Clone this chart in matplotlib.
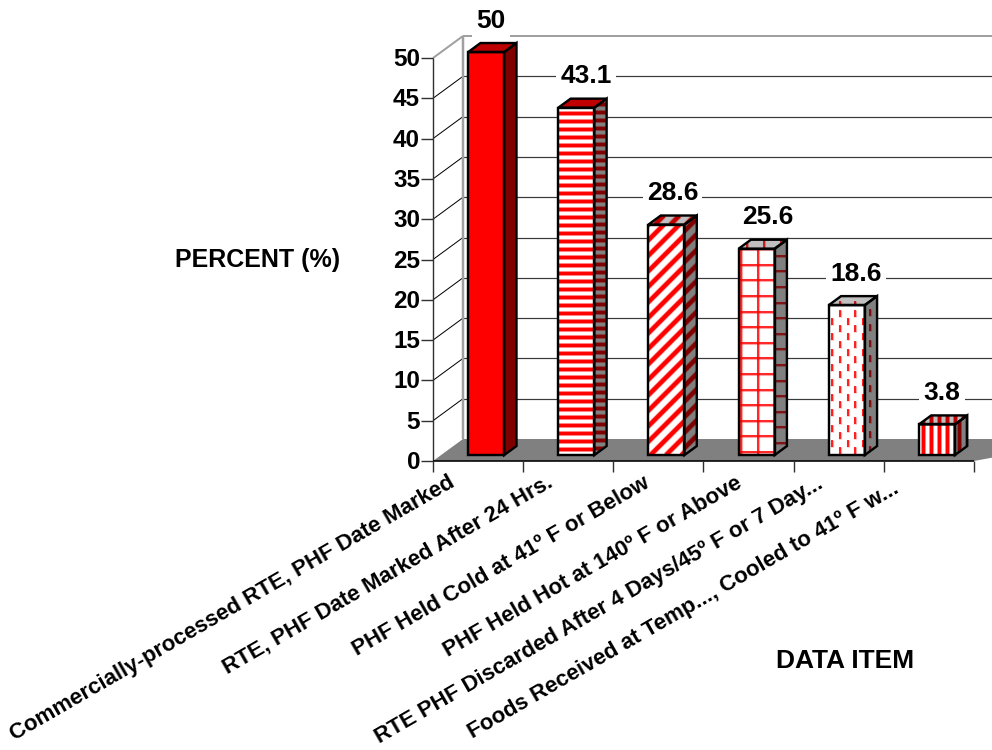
import numpy as np
import matplotlib
matplotlib.use("Agg")
import matplotlib.pyplot as plt
from matplotlib.patches import Polygon
from matplotlib.collections import LineCollection

categories = ["Commercially-processed RTE, PHF Date Marked",
              "RTE, PHF Date Marked After 24 Hrs.",
              "PHF Held Cold at 41\u00ba F or Below",
              "PHF Held Hot at 140\u00ba F or Above",
              "RTE PHF Discarded After 4 Days/45\u00ba F or 7 Day...",
              "Foods Received at Temp..., Cooled to 41\u00ba F w..."]
values = [50, 43.1, 28.6, 25.6, 18.6, 3.8]
labels = ["50", "43.1", "28.6", "25.6", "18.6", "3.8"]
patterns = ["solid", "hstripe", "diag", "grid", "dash", "vstripe"]
y_ticks = list(range(0, 55, 5))

W, H = 992, 750
X0, Y0 = 433.0, 461.0       # pixel of origin
STEP = 90.15                # px per category
PPU = 8.06                  # px per percent
DX, DY = 30.0, 22.0         # depth vector, px

plt.rcParams['font.family'] = ['Liberation Sans', 'DejaVu Sans']
fig = plt.figure(figsize=(W/100, H/100), dpi=100)
ax = fig.add_axes([0, 0, 1, 1])
ax.set_xlim(-X0/STEP, (W-X0)/STEP)
ax.set_ylim((Y0-H)/PPU, Y0/PPU)
ax.axis('off')

px = 72/100
def P(c, v, d=0.0):
    return (c + d*DX/STEP, v + d*DY/PPU)
def line(a, b, color='k', lw=1.0, z=1):
    ax.plot([a[0], b[0]], [a[1], b[1]], color=color, lw=lw*px, zorder=z,
            solid_capstyle='butt')

# floor
n = len(values)
ax.add_patch(Polygon([P(0, 0), P(0, 0, 1), P(n+1, 0, 1), P(n, 0)], fc='#808080', ec='none', zorder=1))
# walls
for t in y_ticks[1:-1]:
    line(P(0, t), P(0, t, 1), '#000000', 1, 2)
    line(P(0, t, 1), P(n+1, t, 1), '#3a3a3a', 1.2, 2)
top = y_ticks[-1]
line(P(0, top), P(0, top, 1), '#a0a0a0', 2, 2)
line(P(0, top, 1), P(n+1, top, 1), '#a0a0a0', 2, 2)
line(P(0, 0, 1), P(0, top, 1), '#a0a0a0', 2.5, 2)
# axes
line(P(0, 0), P(0, top), '#303030', 1.4, 3)
line(P(0, 0), P(n, 0), '#000000', 1.6, 3)
for i in range(n+1):
    a = P(i, 0)
    line(a, (a[0], a[1]-11/PPU), '#303030', 1.4, 3)
for t in y_ticks:
    line(P(0, t), (-12/STEP, t), '#303030', 1.4, 3)
    ax.text(-13/STEP, t - 1.5/PPU, str(t), ha='right', va='center', fontsize=17.5, fontweight='bold', zorder=5)

# bars
D0, D1 = 0.27, 0.68
BW = 36/STEP
LEFT = 0.5 - BW/2

def pattern_segments(kind, poly, where='front'):
    xs = np.array([p[0] for p in poly])*STEP
    ys = np.array([p[1] for p in poly])*PPU
    x0, x1, y0, y1 = xs.min(), xs.max(), ys.min(), ys.max()
    segs = []
    if kind == 'hstripe':
        for y in np.arange(y1 - 5, y0-8, -8.0):
            segs.append([(x0/STEP, y/PPU), (x1/STEP, y/PPU)])
    elif kind == 'vstripe':
        for x in np.arange(x0 + 4, x1+8, 8.0):
            segs.append([(x/STEP, y0/PPU), (x/STEP, y1/PPU)])
    elif kind == 'diag':
        for c in np.arange(x0-(y1-y0)-15.5, x1+15.5, 15.5):
            segs.append([(c/STEP, y0/PPU), ((c+(y1-y0))/STEP, y1/PPU)])
    elif kind == 'grid':
        if where != 'top':
            for y in np.arange(y1 - 0.5, y0-16, -15.6):
                segs.append([(x0/STEP, y/PPU), (x1/STEP, y/PPU)])
        if where != 'side':
            start = x0 + 2.5 if where == 'front' else x0 + 8
            for x in np.arange(start, x1+16, 17.0):
                segs.append([(x/STEP, y0/PPU), (x/STEP, y1/PPU)])
    elif kind == 'dash':
        start = x0 + 5.5 if where == 'side' else x0 + 3.5
        for j, x in enumerate(np.arange(start, x1+3, 7.7)):
            off = 8 if j % 2 == 0 else 0
            for y in np.arange(y1 - 12 - off, y0-8, -15.2):
                segs.append([(x/STEP, y/PPU), (x/STEP, (y+7)/PPU)])
    return segs

LW = {'hstripe': 3.4, 'vstripe': 3.4, 'diag': 4.2, 'grid': 1.5, 'dash': 1.6}

def face(poly, bg, stripe, kind, z, where='front'):
    patch = Polygon(poly, fc=bg, ec='none', zorder=z)
    ax.add_patch(patch)
    if kind != 'solid':
        segs = pattern_segments(kind, poly, where)
        soft = LineCollection(segs, colors=stripe, alpha=0.35,
                              linewidths=(LW[kind]+1.6)*px, zorder=z+0.05, capstyle='butt')
        lc = LineCollection(segs, colors=stripe,
                            linewidths=LW[kind]*px, zorder=z+0.1, capstyle='butt')
        ax.add_collection(soft)
        ax.add_collection(lc)
        soft.set_clip_path(patch)
        lc.set_clip_path(patch)
    ax.add_patch(Polygon(poly, fc='none', ec='k', lw=2.4*px, zorder=z+0.2, joinstyle='miter'))

for i, (v, kind) in enumerate(zip(values, patterns)):
    c0 = i + LEFT
    c1 = c0 + BW
    front = [P(c0, 0, D0), P(c1, 0, D0), P(c1, v, D0), P(c0, v, D0)]
    sidef = [P(c1, 0, D0), P(c1, 0, D1), P(c1, v, D1), P(c1, v, D0)]
    topf = [P(c0, v, D0), P(c1, v, D0), P(c1, v, D1), P(c0, v, D1)]
    z = 10 + i
    if kind == 'solid':
        face(front, '#ff0000', None, 'solid', z)
        face(sidef, '#800000', None, 'solid', z)
        face(topf, '#c00000', None, 'solid', z)
    else:
        face(front, '#ffffff', '#ff0000', kind, z)
        face(sidef, '#808080', '#800000', kind, z, where='side')
        if kind == 'hstripe':
            face(topf, '#c00000', None, 'solid', z)
        else:
            face(topf, '#c0c0c0', '#c00000', kind, z, where='top')

# value labels
label_dx = [5, 10, 6, 11, 9, 5]
for i, (v, s) in enumerate(zip(values, labels)):
    bx = i + 0.5 + D0*DX/STEP + label_dx[i]/STEP
    by = v + D0*DY/PPU + 31.5/PPU
    ax.text(bx, by, s, ha='center', va='center', fontsize=19, fontweight='bold', zorder=30,
            bbox=dict(fc='white', ec='none', pad=3))

# category labels
cat_dx = [-1, 7, 13, 16, 7, -8]
cat_dy = [4, 4, 3, 3, 3, -2]
for i, s in enumerate(categories):
    ax.text(i + 0.5 + (cat_dx[i]-29)/STEP, (cat_dy[i]-15)/PPU, s, rotation=30, rotation_mode='anchor',
            ha='right', va='top', fontsize=16, fontweight='bold', zorder=5)

ax.text((258-X0)/STEP, (Y0-260)/PPU, "PERCENT (%)", ha='center', va='center',
        fontsize=18, fontweight='bold')
ax.text((845-X0)/STEP, (Y0-661)/PPU, "DATA ITEM", ha='center', va='center',
        fontsize=19, fontweight='bold')

fig.savefig("out.png", dpi=100)
